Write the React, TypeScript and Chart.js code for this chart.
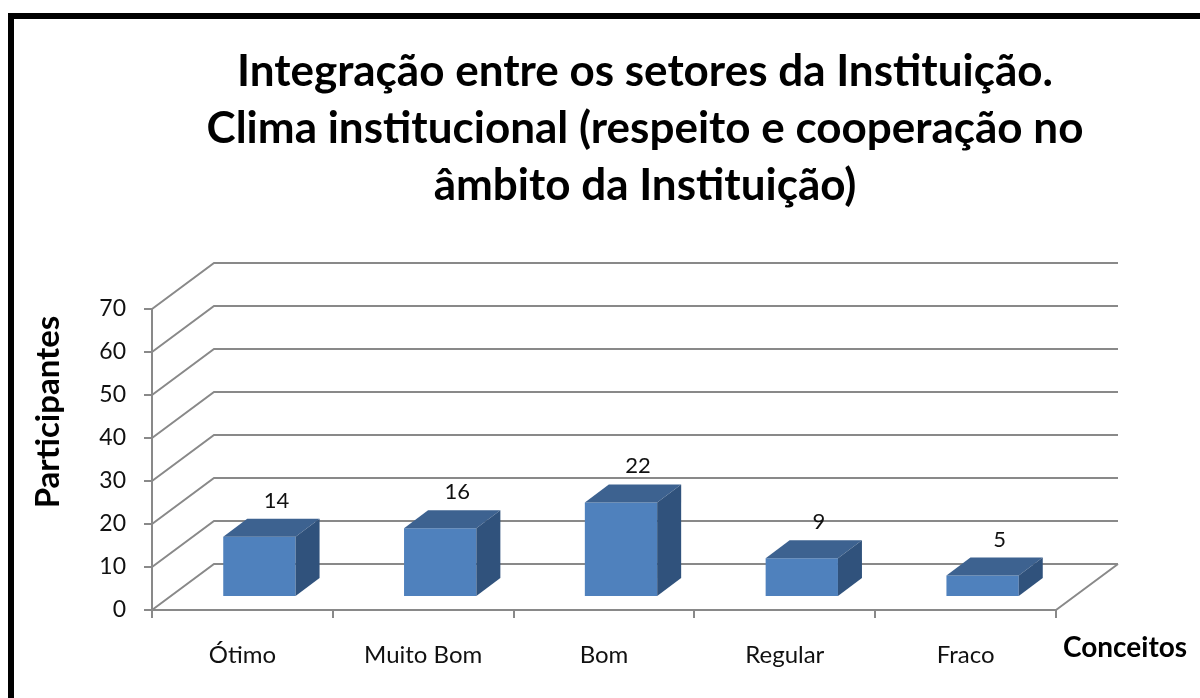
import React, { useEffect, useRef } from "react";
import { Chart, registerables } from "chart.js";

Chart.register(...registerables);

// ---------- data ----------
const categories: string[] = ["Ótimo", "Muito Bom", "Bom", "Regular", "Fraco"];
const participantes: number[] = [14, 16, 22, 9, 5];
const yMin = 0;
const yMax = 70;
const yStep = 10;
const titleLines: string[] = [
  "Integração entre os setores da Instituição.",
  "Clima institucional (respeito e cooperação no",
  "âmbito da Instituição)",
];
const yAxisTitle = "Participantes";
const xAxisTitle = "Conceitos";

// ---------- style ----------
const FONT = "Lato, 'Liberation Sans', sans-serif";
const GRID = "#898989";
const FRONT = "#4F81BD";
const TOP = "#3D6290";
const SIDE = "#30527C";
const TEXT = "#111111";
// 3D geometry (pixel offsets of the perspective)
const WALL_DX = 62;
const WALL_DY = 46;
const BAR_OFF_X = 17;
const BAR_OFF_Y = 13;
const BAR_DX = 24;
const BAR_DY = 18;

const threeD = {
  id: "threeD",
  beforeDatasetsDraw(chart: any) {
    const { ctx, chartArea: a, scales } = chart;
    const y = scales.y;
    ctx.save();
    ctx.strokeStyle = GRID;
    ctx.lineWidth = 2;
    ctx.beginPath();
    y.ticks.forEach((t: any) => {
      const py = y.getPixelForValue(t.value);
      ctx.moveTo(a.left, py);
      ctx.lineTo(a.left + WALL_DX, py - WALL_DY);
      ctx.lineTo(a.right + WALL_DX, py - WALL_DY);
    });
    ctx.moveTo(a.right, a.bottom);
    ctx.lineTo(a.right + WALL_DX, a.bottom - WALL_DY);
    ctx.stroke();
    ctx.restore();
  },
  beforeDatasetDraw(chart: any) {
    chart.ctx.save();
    chart.ctx.translate(BAR_OFF_X, -BAR_OFF_Y);
  },
  afterDatasetDraw(chart: any, args: any) {
    const ctx = chart.ctx;
    const values = chart.data.datasets[args.index].data;
    args.meta.data.forEach((bar: any, i: number) => {
      const { x, y, base, width } = bar.getProps(["x", "y", "base", "width"], true);
      const l = x - width / 2;
      const r = x + width / 2;
      ctx.fillStyle = TOP;
      ctx.beginPath();
      ctx.moveTo(l, y);
      ctx.lineTo(r, y);
      ctx.lineTo(r + BAR_DX, y - BAR_DY);
      ctx.lineTo(l + BAR_DX, y - BAR_DY);
      ctx.closePath();
      ctx.fill();
      ctx.fillStyle = SIDE;
      ctx.beginPath();
      ctx.moveTo(r, y);
      ctx.lineTo(r, base);
      ctx.lineTo(r + BAR_DX, base - BAR_DY);
      ctx.lineTo(r + BAR_DX, y - BAR_DY);
      ctx.closePath();
      ctx.fill();
      ctx.fillStyle = TEXT;
      ctx.font = `22px ${FONT}`;
      ctx.textAlign = "center";
      ctx.textBaseline = "middle";
      ctx.fillText(String(values[i]), x + 17, y - 36);
    });
    ctx.restore();
  },
  afterDraw(chart: any) {
    const ctx = chart.ctx;
    ctx.save();
    ctx.fillStyle = "#000";
    ctx.font = `bold 33px ${FONT}`;
    ctx.textAlign = "center";
    ctx.textBaseline = "middle";
    ctx.translate(48, 412);
    ctx.rotate(-Math.PI / 2);
    ctx.fillText(yAxisTitle, 0, 0);
    ctx.restore();
    ctx.save();
    ctx.fillStyle = "#000";
    ctx.font = `bold 28px ${FONT}`;
    ctx.textAlign = "left";
    ctx.textBaseline = "alphabetic";
    ctx.fillText(xAxisTitle, 1063, 657);
    ctx.restore();
  },
};

export default function App() {
  const ref = useRef<HTMLCanvasElement | null>(null);
  useEffect(() => {
    if (!ref.current) return;
    const chart = new Chart(ref.current, {
      type: "bar",
      data: {
        labels: categories,
        datasets: [
          {
            label: yAxisTitle,
            data: participantes,
            backgroundColor: FRONT,
            borderWidth: 0,
            categoryPercentage: 1,
            barPercentage: 0.4,
            clip: false as any,
          },
        ],
      },
      options: {
        responsive: false,
        animation: false,
        devicePixelRatio: 1,
        layout: { padding: { left: 90, right: 0, top: 0, bottom: 0 } },
        plugins: {
          legend: { display: false },
          tooltip: { enabled: false },
          title: {
            display: true,
            text: titleLines,
            color: "#000",
            font: { family: FONT, size: 44, weight: "bold", lineHeight: "57px" as any },
            padding: { top: 43, bottom: 95 },
          },
        },
        scales: {
          x: {
            grid: { offset: true, drawOnChartArea: false, tickLength: 8, color: GRID, lineWidth: 2 },
            border: { color: GRID, width: 2 },
            ticks: { color: TEXT, font: { family: FONT, size: 24 }, padding: 23, maxRotation: 0 },
            afterFit: (s: any) => {
              s.height = 88;
            },
          },
          y: {
            min: yMin,
            max: yMax,
            ticks: { stepSize: yStep, color: TEXT, font: { family: FONT, size: 23 }, padding: 18 },
            grid: { drawOnChartArea: false, tickLength: 8, color: GRID, lineWidth: 2 },
            border: { color: GRID, width: 2 },
            afterFit: (s: any) => {
              s.width = 62;
            },
          },
          depth: {
            type: "linear",
            position: "right",
            display: true,
            grid: { display: false, drawTicks: false },
            border: { display: false },
            ticks: { display: false },
            afterFit: (s: any) => {
              s.width = 144;
            },
          },
        },
      },
      plugins: [threeD],
    });
    return () => chart.destroy();
  }, []);

  return (
    <div style={{ position: "fixed", left: 0, top: 0, width: 1200, height: 698, overflow: "hidden", background: "#fff" }}>
      <div
        style={{
          position: "absolute",
          left: 8,
          top: 13,
          width: 1400,
          height: 900,
          border: "6px solid #000",
        }}
      />
      <canvas ref={ref} width={1200} height={698} style={{ position: "absolute", left: 0, top: 0, width: 1200, height: 698 }} />
    </div>
  );
}
